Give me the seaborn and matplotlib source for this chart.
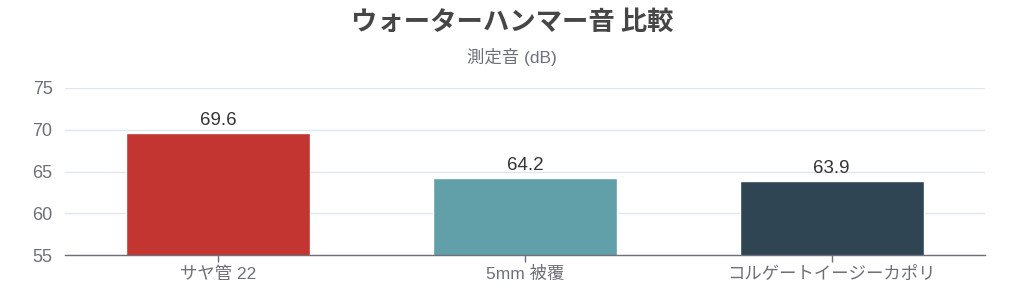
import matplotlib
matplotlib.use("Agg")
import matplotlib.pyplot as plt
import seaborn as sns
import pandas as pd

categories = ["サヤ管 22", "5mm 被覆", "コルゲートイージーカポリ"]
values = [69.6, 64.2, 63.9]
colors = ["#C23531", "#61A0A8", "#2F4554"]
yticks = [55, 60, 65, 70, 75]
title = "ウォーターハンマー音 比較"
subtitle = "測定音 (dB)"

sns.set_theme(style="white")
plt.rcParams['font.family'] = ['Liberation Sans', 'Noto Sans CJK JP', 'DejaVu Sans']

df = pd.DataFrame({"cat": categories, "val": values})

fig = plt.figure(figsize=(10.24, 2.93), dpi=100)
ax = fig.add_axes([65/1024, 1-255/293, 920/1024, (255-88)/293])

sns.barplot(data=df, x="cat", y="val", hue="cat", palette=colors, width=0.6,
            legend=False, ax=ax, saturation=1, zorder=3)

ax.set_ylim(55, 75)
ax.set_yticks(yticks)
ax.set_xlim(-0.5, 2.5)
ax.grid(axis="y", color="#E0E6F1", linewidth=1, zorder=0)
for s in ["top", "right", "left"]:
    ax.spines[s].set_visible(False)
ax.spines["bottom"].set_color("#6E7079")
ax.spines["bottom"].set_linewidth(1)
ax.spines["bottom"].set_zorder(4)
ax.tick_params(axis="x", colors="#6E7079", length=5, width=1, labelsize=12.5, pad=3, bottom=True, direction="out")
ax.tick_params(axis="y", colors="#6E7079", length=0, labelsize=13, pad=9)
for lbl in ax.get_xticklabels() + ax.get_yticklabels():
    lbl.set_color("#6E7079")
ax.set_xlabel("")
ax.set_ylabel("")

for i, v in enumerate(values):
    ax.text(i, v + 0.45, f"{v}", ha="center", va="bottom", fontsize=13.5, color="#333333")

fig.text(0.5, 1-22/293, title, ha="center", va="center", fontsize=19, fontweight="bold",
         color="#464646", family=['Noto Sans CJK JP', 'DejaVu Sans'])
fig.text(0.5, 1-57/293, subtitle, ha="center", va="center", fontsize=12.5, color="#6E7079")

fig.savefig("out.png", dpi=100)
